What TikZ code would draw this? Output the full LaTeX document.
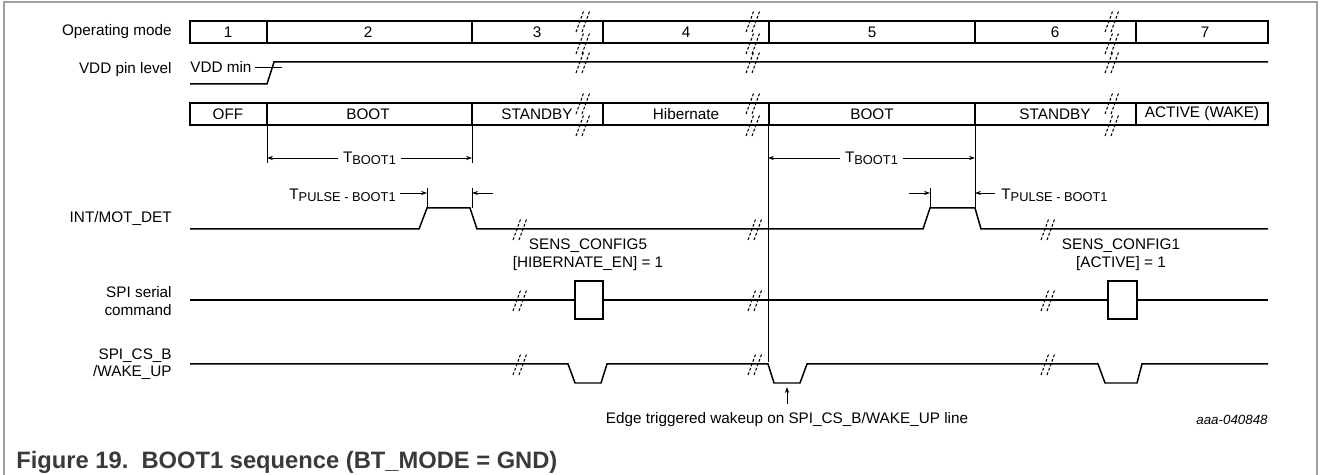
\documentclass[tikz,border=0pt]{standalone}
\usepackage{fontspec}
\setmainfont{Liberation Sans}
\usetikzlibrary{arrows.meta}

\definecolor{capgray}{HTML}{3A3A3A}
\definecolor{framegray}{HTML}{A0A0A0}

% T with a lowered small-caps style index
\newcommand{\tsub}[1]{T\raisebox{-1.2pt}{\fontsize{7.3}{8}\selectfont #1}}
% double-slash break mark centred on (x,y)
\newcommand{\brkmark}[2]{%
  \draw[brk] (#1-7,#2+11) -- (#1+1,#2-11);
  \draw[brk] (#1-1,#2+11) -- (#1+7,#2-11);}

\tikzset{
  sig/.style={line width=0.85pt, line join=miter},
  boxline/.style={line width=1.1pt},
  dim/.style={line width=0.5pt},
  brk/.style={line width=0.6pt, dash pattern=on 1.6pt off 1.1pt},
  lbl/.style={font=\fontsize{8.7}{10}\selectfont, inner sep=0pt},
}

\begin{document}
\begin{tikzpicture}[x=0.02cm, y=-0.02cm, >={Stealth[length=3.4pt,width=2.4pt]}]
  \useasboundingbox (0,0) rectangle (1328,475);
  \draw[framegray, line width=0.6pt] (4,475) -- (4,2) -- (1317,2) -- (1317,475);

  % row labels
  \node[lbl, anchor=east] (opmode) at (172,32) {Operating mode};
  \node[lbl, anchor=east] (vddpin) at (172,70) {VDD pin level};
  \node[lbl, anchor=east] (intlbl) at (172,218) {INT/MOT\_DET};
  \node[lbl, anchor=east, align=right] (spilbl) at (172,301) {SPI serial\\command};
  \node[lbl, anchor=east, align=right] (cslbl) at (172,364) {SPI\_CS\_B\\/WAKE\_UP};

  % operating mode and state boxes
  \draw[boxline] (190,21) rectangle (1268,43);
  \draw[boxline] (190,103) rectangle (1268,125);
  \foreach \x in {267,472,603,769,975,1136} {
    \draw[boxline] (\x,21) -- (\x,43);
    \draw[boxline] (\x,103) -- (\x,125);
  }
  \foreach \x/\t in {228/1,368/2,537/3,686/4,872/5,1055/6,1205/7}
    \node[lbl] (mode\t) at (\x,32) {\t};
  \foreach \x/\t [count=\i] in {228/OFF,368/BOOT,537/STANDBY,686/Hibernate,872/BOOT,1055/STANDBY,1202/ACTIVE (WAKE)}
    \node[lbl] (state\i) at (\x,114) {\t};

  % VDD
  \draw[sig] (190,84) -- (267,84) -- (274,62) -- (1268,62);
  \node[lbl, anchor=west] (vddmin) at (190,67) {VDD min};
  \draw[dim] ([xshift=1.7pt]vddmin.east) -- (282,67);

  \foreach \x in {583,753,1112} {
    \brkmark{\x}{21} \brkmark{\x}{43} \brkmark{\x}{62}
    \brkmark{\x}{103} \brkmark{\x}{125}
  }

  % T_BOOT1 windows
  \draw[dim] (267,125) -- (267,163);
  \draw[dim] (472,125) -- (472,163);
  \draw[dim, <->] (267,158) -- (472,158)
    node[midway, lbl, fill=white, inner xsep=3pt] (tboota) {\tsub{BOOT1}};
  \draw[dim] (768,125) -- (768,362);
  \draw[dim] (975,125) -- (975,208);
  \draw[dim, <->] (768,158) -- (975,158)
    node[midway, lbl, fill=white, inner xsep=3pt] (tbootb) {\tsub{BOOT1}};

  % T_PULSE markers
  \draw[dim] (427,188) -- (427,208);
  \draw[dim, ->] (400,193) -- (427,193);
  \draw[dim] (472,188) -- (472,208);
  \draw[dim, ->] (493,193) -- (472,193);
  \node[lbl, anchor=east] (tpulsea) at (396,195) {\tsub{PULSE - BOOT1}};
  \draw[dim] (930,188) -- (930,208);
  \draw[dim, ->] (909,193) -- (930,193);
  \draw[dim, ->] (995,193) -- (975,193);
  \node[lbl, anchor=west] (tpulseb) at (1001,195) {\tsub{PULSE - BOOT1}};

  % INT/MOT_DET
  \draw[sig] (190,229) -- (419,229) -- (427,208) -- (470,208) -- (477,229)
    -- (923,229) -- (930,208) -- (975,208) -- (981,229) -- (1268,229);

  % SPI serial command
  \draw[sig] (190,300) -- (1268,300);
  \draw[sig, fill=white] (575,281) rectangle (603,319);
  \draw[sig, fill=white] (1108,281) rectangle (1137,319);
  \node[lbl, align=center] (cfg5) at (588,255) {SENS\_CONFIG5\\{}[HIBERNATE\_EN] = 1};
  \node[lbl, align=center] (cfg1) at (1121,255) {SENS\_CONFIG1\\{}[ACTIVE] = 1};

  % SPI_CS_B/WAKE_UP
  \draw[sig] (190,364) -- (568,364) -- (575,383) -- (601,383) -- (607,364)
    -- (768,364) -- (774,383) -- (800,383) -- (807,364)
    -- (1098,364) -- (1105,383) -- (1137,383) -- (1142,364) -- (1268,364);

  \foreach \x in {520,755,1048} {
    \brkmark{\x}{229} \brkmark{\x}{300} \brkmark{\x}{364}
  }

  \coordinate (wkdip) at (787,383);
  \node[lbl] (edge) at (787,420) {Edge triggered wakeup on SPI\_CS\_B/WAKE\_UP line};
  \draw[dim, ->] ([yshift=5pt]edge.north) -- ([yshift=-2.3pt]wkdip);
  \node[anchor=east, inner sep=0pt, font=\fontsize{7.6}{9}\selectfont\itshape] (figid) at (1268,420) {aaa-040848};

  \node[anchor=west, inner sep=0pt, text=capgray, font=\fontsize{13.5}{16}\selectfont\bfseries] (caption) at (16,462)
    {Figure 19.\ \ BOOT1 sequence (BT\_MODE = GND)};
\end{tikzpicture}
\end{document}
